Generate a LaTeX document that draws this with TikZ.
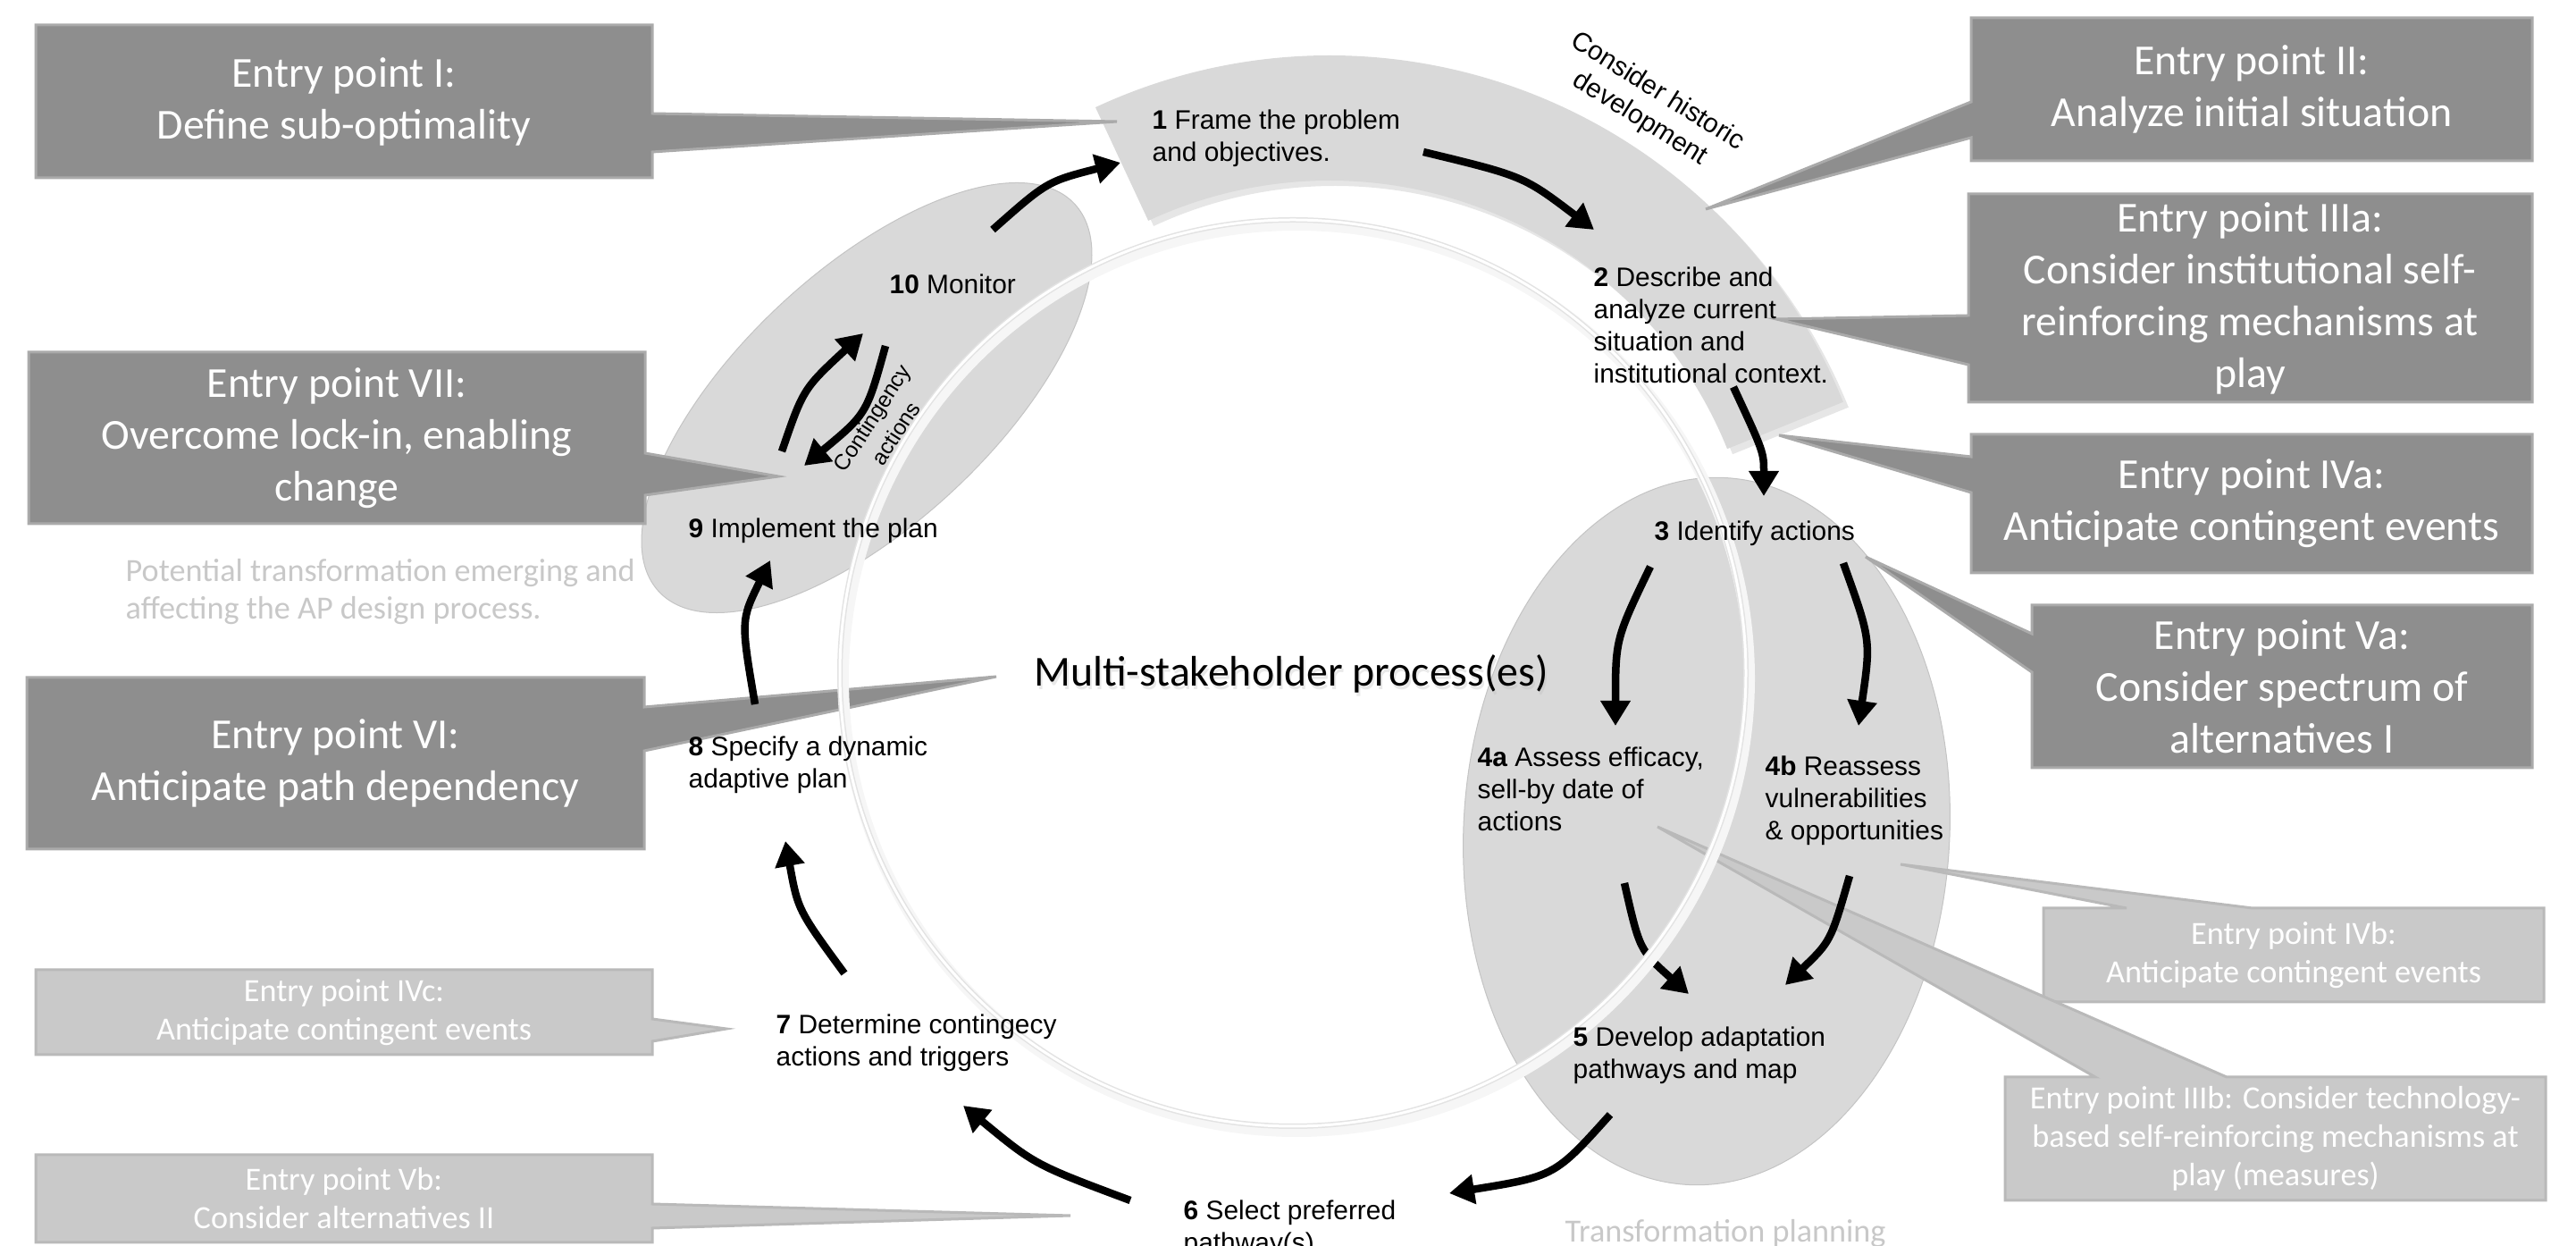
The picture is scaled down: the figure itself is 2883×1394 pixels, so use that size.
\documentclass[tikz,border=0pt]{standalone}
\usepackage{fontspec}
\setmainfont{Liberation Sans}
\newfontfamily\calibri{Carlito}
\usetikzlibrary{arrows.meta,shadows}
\definecolor{grisfonce}{RGB}{142,142,142}
\definecolor{bordfonce}{RGB}{170,170,170}
\definecolor{grispale}{RGB}{201,201,201}
\definecolor{bordpale}{RGB}{185,185,185}
\definecolor{grisfond}{RGB}{217,217,217}
\definecolor{bordfond}{RGB}{196,196,196}
\definecolor{grisnote}{RGB}{200,200,200}

\begin{document}
\begin{tikzpicture}[x=0.1mm,y=-0.1mm]

  % Styles
  \tikzstyle{fleche} = [-{Triangle[length=2.8mm,width=3.2mm]}, line width=0.85mm]
  \tikzstyle{etape} = [anchor=base west, inner sep=0pt, align=left, font=\fontsize{8.5}{10.25}\selectfont]
  \tikzstyle{bulle} = [fill=grisfonce, draw=bordfonce, line width=0.3mm]
  \tikzstyle{bullepale} = [fill=grispale, draw=bordpale, line width=0.3mm]
  \tikzstyle{entree} = [align=center, text=white, inner sep=0pt, font=\calibri\fontsize{13.6}{16.5}\selectfont]
  \tikzstyle{entreepale} = [align=center, text=white, inner sep=0pt, font=\calibri\fontsize{10.3}{12.2}\selectfont]
  \tikzstyle{note} = [anchor=base west, align=left, inner sep=0pt, text=grisnote, font=\calibri\fontsize{10.3}{12.2}\selectfont]
  \tikzstyle{zone} = [fill=grisfond, draw=bordfond, line width=0.1mm]

  \path[use as bounding box] (0,0) rectangle (2883,1394);
  \clip (0,0) rectangle (2883,1394);

  % Zones grises
  \draw[zone, rotate around={43:(970,445)}] (970,445) ellipse [x radius=318, y radius=142];
  \draw[zone, rotate around={-3:(1910,930)}] (1910,930) ellipse [x radius=272, y radius=396];
  \fill[grisfond, drop shadow={opacity=0.2, shadow xshift=0.6mm, shadow yshift=-0.6mm}]
    (1488,682) ++(-115:620) arc[start angle=-115, end angle=-22, radius=620]
    -- ++(-22:-140) arc[start angle=-22, end angle=-115, radius=480] -- cycle;

  % Points d'entree (fonces)
  \draw[bulle] (40,28) -- (730,28) -- (730,127) -- (1250,136) -- (730,170) -- (730,199) -- (40,199) -- cycle;
  \draw[bulle] (2206,20) -- (2834,20) -- (2834,180) -- (2206,180) -- (2206,154) -- (1909,234) -- (2206,114) -- cycle;
  \draw[bulle] (2203,217) -- (2834,217) -- (2834,450) -- (2203,450) -- (2203,408) -- (1988,357) -- (2203,353) -- cycle;
  \draw[bulle] (2206,486) -- (2834,486) -- (2834,641) -- (2206,641) -- (2206,551) -- (1991,487) -- (2206,511) -- cycle;
  \draw[bulle] (2274,677) -- (2834,677) -- (2834,859) -- (2274,859) -- (2274,752) -- (2088,623) -- (2274,709) -- cycle;
  \draw[bulle] (30,758) -- (721,758) -- (721,791) -- (1115,757) -- (721,840) -- (721,950) -- (30,950) -- cycle;
  \draw[bulle] (32,394) -- (722,394) -- (722,507) -- (871,533) -- (722,554) -- (722,586) -- (32,586) -- cycle;

  \node[entree] (epI) at (385,113.5) {Entry point I:\\Define sub-optimality};
  \node[entree] (epII) at (2520,100) {Entry point II:\\Analyze initial situation};
  \node[entree] (epIIIa) at (2518,333.5) {Entry point IIIa:\\Consider institutional self-\\reinforcing mechanisms at\\play};
  \node[entree] (epIVa) at (2520,563.5) {Entry point IVa:\\Anticipate contingent events};
  \node[entree] (epVa) at (2554,768) {Entry point Va:\\Consider spectrum of\\alternatives I};
  \node[entree] (epVI) at (375.5,854) {Entry point VI:\\Anticipate path dependency};
  \node[entree] (epVII) at (377,490) {Entry point VII:\\Overcome lock-in, enabling\\change};

  % Points d'entree (pales)
  \draw[bullepale] (40,1085) -- (730,1085) -- (730,1140) -- (813,1151) -- (730,1165) -- (730,1180) -- (40,1180) -- cycle;
  \draw[bullepale] (40,1292) -- (730,1292) -- (730,1347) -- (1198,1360) -- (730,1374) -- (730,1390) -- (40,1390) -- cycle;
  \draw[bullepale] (2287,1016) -- (2380,1016) -- (2127,967) -- (2521,1016) -- (2847,1016) -- (2847,1121) -- (2287,1121) -- cycle;
  \draw[bullepale] (2244,1205) -- (2345,1205) -- (1855,925) -- (2492,1205) -- (2849,1205) -- (2849,1343) -- (2244,1343) -- cycle;

  \node[entreepale] (epIVc) at (385,1132.5) {Entry point IVc:\\Anticipate contingent events};
  \node[entreepale] (epVb) at (385,1341) {Entry point Vb:\\Consider alternatives II};
  \node[entreepale] (epIVb) at (2567,1068.5) {Entry point IVb:\\Anticipate contingent events};
  \node[entreepale] (epIIIb) at (2546.5,1274) {Entry point IIIb: Consider technology-\\based self-reinforcing mechanisms at\\play (measures)};

  % Points des fleches
  \coordinate (d10) at (1111,257);  \coordinate (a1) at (1254,182);
  \coordinate (d1) at (1593,170);   \coordinate (a2) at (1784,257);
  \coordinate (d2) at (1940,433);   \coordinate (a3) at (1974,555);
  \coordinate (d3a) at (1847,634);  \coordinate (a4a) at (1808,812);
  \coordinate (d3b) at (2063,630);  \coordinate (a4b) at (2080,812);
  \coordinate (d4a) at (1818,988);  \coordinate (a5a) at (1890,1112);
  \coordinate (d4b) at (2070,980);  \coordinate (a5b) at (1998,1102);
  \coordinate (d5) at (1802,1247);  \coordinate (a6) at (1622,1335);
  \coordinate (d6) at (1265,1343);  \coordinate (a7) at (1078,1237);
  \coordinate (d7) at (945,1089);   \coordinate (a8) at (879,941);
  \coordinate (d8) at (845,788);    \coordinate (a9) at (862,627);
  \coordinate (dc1) at (875,505);   \coordinate (ac1) at (966,373);
  \coordinate (dc2) at (991,387);   \coordinate (ac2) at (900,521);

  % Fleches du cycle
  \draw[fleche] (d10) .. controls (1172,203) .. (a1);
  \draw[fleche] (d1) .. controls (1705,197) .. (a2);
  \draw[fleche] (d2) .. controls (1974,506) .. (a3);
  \draw[fleche] (d3a) .. controls (1808,715) .. (a4a);
  \draw[fleche] (d3b) .. controls (2094,716) .. (a4b);
  \draw[fleche] (d4a) .. controls (1835,1063) .. (a5a);
  \draw[fleche] (d4b) .. controls (2049,1053) .. (a5b);
  \draw[fleche] (d5) .. controls (1740,1316) .. (a6);
  \draw[fleche] (d6) .. controls (1158,1303) .. (a7);
  \draw[fleche] (d7) .. controls (893,1018) .. (a8);
  \draw[fleche] (d8) .. controls (829,694) .. (a9);
  \draw[fleche] (dc1) .. controls (899,435) .. (ac1);
  \draw[fleche] (dc2) .. controls (970,463) .. (ac2);

  % Anneau
  \draw[line width=1.2mm, gray!7] (1451,759) circle[radius=507];
  \draw[line width=0.6mm, gray!22] (1447,753) circle[radius=507];
  \draw[line width=0.3mm, white] (1447,753) circle[radius=507];

  % Notes
  \node[note] (potentiel) at (140,693) {Potential transformation emerging and\\affecting the AP design process.};
  \node[note] (planif) at (1751,1389) {Transformation planning};

  % Etapes (base = derniere ligne)
  \node[etape] (s1) at (1289,181) {\textbf{1} Frame the problem\\and objectives.};
  \node[etape] (s2) at (1783,429) {\textbf{2} Describe and\\analyze current\\situation and\\institutional context.};
  \node[etape] (s3) at (1851,605) {\textbf{3} Identify actions};
  \node[etape] (s4a) at (1653,930) {\textbf{4a} Assess efficacy,\\sell-by date of\\actions};
  \node[etape] (s4b) at (1975,940) {\textbf{4b} Reassess\\vulnerabilities\\\& opportunities};
  \node[etape] (s5) at (1760,1207) {\textbf{5} Develop adaptation\\pathways and map};
  \node[etape] (s6) at (1324,1401) {\textbf{6} Select preferred\\pathway(s)};
  \node[etape] (s7) at (868,1193) {\textbf{7} Determine contingecy\\actions and triggers};
  \node[etape] (s8) at (770,882) {\textbf{8} Specify a dynamic\\adaptive plan};
  \node[etape] (s9) at (770,602) {\textbf{9} Implement the plan};
  \node[etape] (s10) at (995,329) {\textbf{10} Monitor};
  \node[etape, anchor=center, align=center, rotate=57, font=\fontsize{7}{9}\selectfont] (conting) at (989,476) {Contingency\\actions};
  \node[etape, anchor=center, align=center, rotate=-32] (histo) at (1845,118) {Consider historic\\development};

  % Processus
  \node[anchor=base, text=gray!50, opacity=0.35, font=\calibri\fontsize{13.6}{16.5}\selectfont] at (1447,772) {Multi-stakeholder process(es)};
  \node[anchor=base, font=\calibri\fontsize{13.6}{16.5}\selectfont] (msp) at (1445,768) {Multi-stakeholder process(es)};

\end{tikzpicture}
\end{document}
